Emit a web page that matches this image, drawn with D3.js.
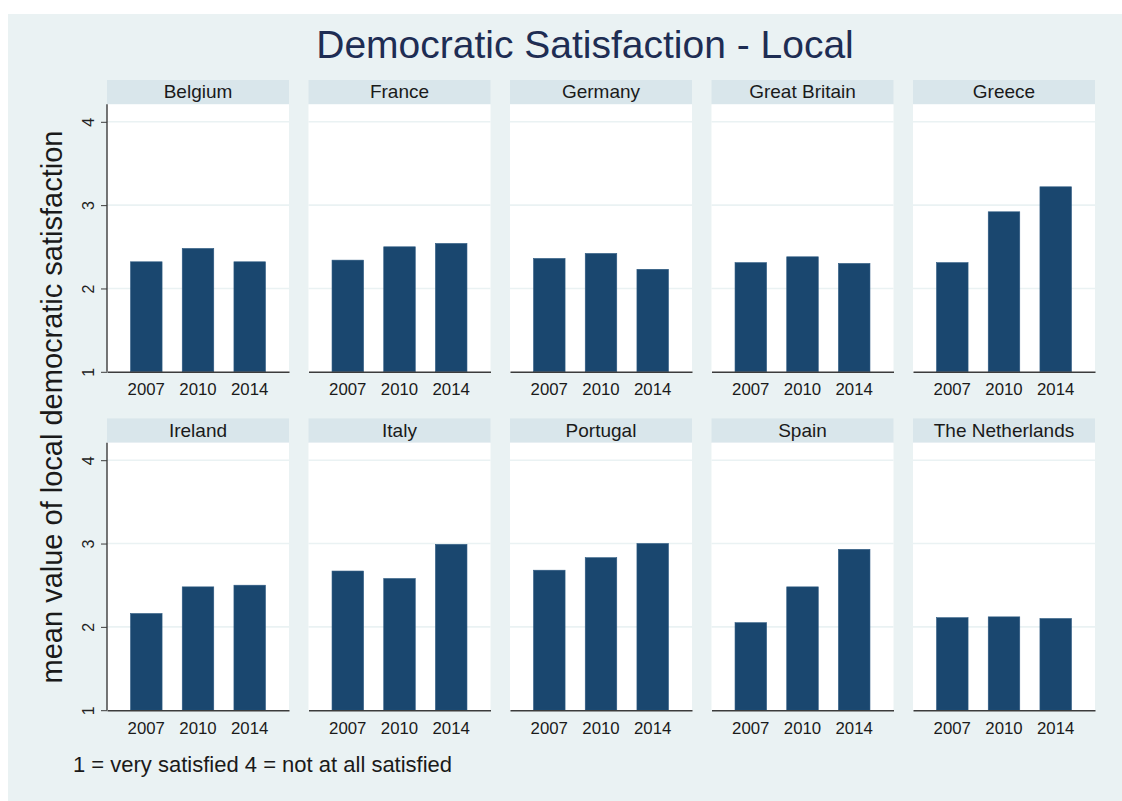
<!DOCTYPE html>
<html>
<head>
<meta charset="utf-8">
<script src="https://cdn.jsdelivr.net/npm/d3@7"></script>
<style>
  html, body { margin: 0; padding: 0; background: #ffffff; }
  svg { display: block; }
  text { font-family: "Liberation Sans", Arial, sans-serif; }
</style>
</head>
<body>
<script>
// Survey waves and countries
const years = ["2007", "2010", "2014"];
const countries = ["Belgium", "France", "Germany", "Great Britain", "Greece",
                   "Ireland", "Italy", "Portugal", "Spain", "The Netherlands"];

// Mean local democratic satisfaction per wave (1 = very satisfied, 4 = not at all)
const v2007 = [2.32, 2.34, 2.36, 2.31, 2.31, 2.16, 2.67, 2.68, 2.05, 2.11];
const v2010 = [2.48, 2.50, 2.42, 2.38, 2.92, 2.48, 2.58, 2.83, 2.48, 2.12];
const v2014 = [2.32, 2.54, 2.23, 2.30, 3.22, 2.50, 2.99, 3.00, 2.93, 2.10];

const yTicks = [1, 2, 3, 4];

const titleText = "Democratic Satisfaction - Local";
const yTitle = "mean value of local democratic satisfaction";
const noteText = "1 = very satisfied 4 = not at all satisfied";

const W = 1122, H = 801;
const colors = {
  page: "#eaf2f3",
  header: "#d9e6eb",
  plot: "#ffffff",
  grid: "#eaf2f3",
  bar: "#1a476f",
  axis: "#3c3c3c",
  title: "#1e2d53",
  text: "#1a1a1a"
};

const svg = d3.select("body").append("svg")
  .attr("width", W).attr("height", H);

// graph background
svg.append("rect")
  .attr("x", 8).attr("y", 14)
  .attr("width", W - 8).attr("height", H - 14)
  .attr("fill", colors.page);

// title
svg.append("text")
  .attr("x", 585).attr("y", 57.5)
  .attr("text-anchor", "middle")
  .attr("font-size", 39)
  .attr("fill", colors.title)
  .text(titleText);

// panel layout
const nCols = 5;
const panelW = 182;
const colStep = 201.5;
const left0 = 107;
const rowTop0 = 80;
const rowStep = 338.4;
const headerH = 24.3;
const plotH = 267.5;

const x = d3.scaleBand().domain(years).range([0, panelW])
  .paddingInner(0.39).paddingOuter(0.455);

// y: value 1 at the baseline, 83.33 px per unit
const y = d3.scaleLinear().domain([1, 4]).range([plotH, plotH - 250]);

const rows = countries.map((c, i) => ({
  country: c,
  col: i % nCols,
  row: Math.floor(i / nCols),
  values: [v2007[i], v2010[i], v2014[i]]
}));

const panels = svg.selectAll("g.panel").data(rows).enter().append("g")
  .attr("class", "panel")
  .attr("transform", d => `translate(${left0 + d.col * colStep},${rowTop0 + d.row * rowStep})`);

// header strip
panels.append("rect")
  .attr("x", 0).attr("y", 0)
  .attr("width", panelW).attr("height", headerH)
  .attr("fill", colors.header);

panels.append("text")
  .attr("x", panelW / 2).attr("y", headerH / 2 + 6.3)
  .attr("text-anchor", "middle")
  .attr("font-size", 19)
  .attr("fill", colors.text)
  .text(d => d.country);

// plot region
const plots = panels.append("g")
  .attr("transform", `translate(0,${headerH})`);

plots.append("rect")
  .attr("x", 0).attr("y", 0)
  .attr("width", panelW).attr("height", plotH)
  .attr("fill", colors.plot);

// gridlines
plots.selectAll("line.grid").data(yTicks.filter(t => t > 1)).enter().append("line")
  .attr("class", "grid")
  .attr("x1", 0).attr("x2", panelW)
  .attr("y1", d => y(d)).attr("y2", d => y(d))
  .attr("stroke", colors.grid).attr("stroke-width", 1.6);

// bars
plots.selectAll("rect.bar")
  .data(d => d.values.map((v, j) => ({ year: years[j], value: v })))
  .enter().append("rect")
  .attr("class", "bar")
  .attr("x", d => x(d.year))
  .attr("width", x.bandwidth())
  .attr("y", d => y(d.value))
  .attr("height", d => y(1) - y(d.value))
  .attr("fill", colors.bar)
  .attr("stroke", "#2e5a82").attr("stroke-width", 0.6);

// x axis
plots.append("g")
  .attr("transform", `translate(0,${plotH})`)
  .each(function () {
    const g = d3.select(this).call(d3.axisBottom(x).tickSize(0).tickPadding(11.5));
    g.select(".domain").attr("stroke", colors.axis).attr("stroke-width", 1.4);
    g.selectAll("text")
      .attr("font-size", 16.8)
      .attr("fill", colors.text)
      .attr("font-family", "Liberation Sans, Arial, sans-serif");
  });

// y axis on the first column only
plots.filter(d => d.col === 0).append("g")
  .each(function () {
    const g = d3.select(this).call(
      d3.axisLeft(y).tickValues(yTicks).tickFormat(d3.format("d")).tickSize(6).tickPadding(4));
    g.select(".domain").remove();
    g.selectAll(".tick line").attr("stroke", colors.axis).attr("stroke-width", 1);
    g.selectAll("text")
      .attr("font-size", 16)
      .attr("fill", "#222222")
      .attr("font-family", "Liberation Sans, Arial, sans-serif")
      .attr("text-anchor", "middle")
      .attr("dy", 0)
      .attr("transform", "translate(-8,0) rotate(-90)")
      .attr("x", 0).attr("y", -5);
  });

plots.filter(d => d.col === 0).append("line")
  .attr("x1", 0).attr("x2", 0)
  .attr("y1", 0).attr("y2", plotH)
  .attr("stroke", colors.axis).attr("stroke-width", 1.4);

// y axis title
svg.append("text")
  .attr("transform", "translate(62,407) rotate(-90)")
  .attr("text-anchor", "middle")
  .attr("font-size", 29)
  .attr("fill", colors.text)
  .text(yTitle);

// note
svg.append("text")
  .attr("x", 73).attr("y", 771.5)
  .attr("font-size", 22)
  .attr("fill", colors.text)
  .text(noteText);
</script>
</body>
</html>
